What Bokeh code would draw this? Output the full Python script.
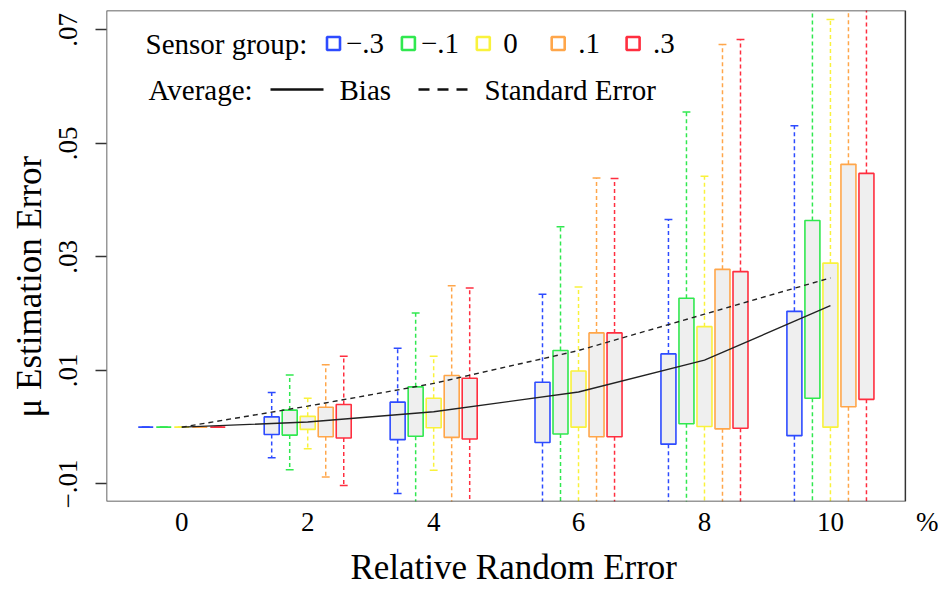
from bokeh.plotting import figure
from bokeh.models import ColumnDataSource, FixedTicker, Range1d, Label, BoxAnnotation, Arrow
from bokeh.embed import file_html
from bokeh.resources import INLINE

# ---------------- data ----------------
group_labels = ["0", "2", "4", "6", "8", "10"]
group_pos = [0.0, 2.0, 4.0, 6.3, 8.3, 10.3]
unit_label = "%"
unit_pos = 11.86

sensor_groups = ["\u2212.3", "\u2212.1", "0", ".1", ".3"]
colors = ["#2d4bff", "#30e84f", "#f9f23c", "#ffa64a", "#ff2e3f"]

# whisker low / Q1 / Q3 / whisker high, per sensor group, per random-error level
whisker_lo = [
    [0.0, -0.0054, -0.0117, -0.0200, -0.0200, -0.0220],
    [0.0, -0.0075, -0.0150, -0.0200, -0.0200, -0.0220],
    [0.0, -0.0038, -0.0076, -0.0140, -0.0200, -0.0220],
    [0.0, -0.0088, -0.0160, -0.0200, -0.0200, -0.0220],
    [0.0, -0.0103, -0.0160, -0.0200, -0.0200, -0.0220],
]
q1 = [
    [0.0, -0.0013, -0.0022, -0.0027, -0.0030, -0.0015],
    [0.0, -0.0014, -0.0016, -0.0012, 0.0006, 0.0051],
    [0.0, -0.0004, -0.0001, 0.0000, 0.0001, 0.0000],
    [0.0, -0.0017, -0.0018, -0.0017, -0.0003, 0.0036],
    [0.0, -0.0019, -0.0021, -0.0017, -0.0002, 0.0049],
]
q3 = [
    [0.0, 0.0018, 0.0044, 0.0079, 0.0129, 0.0204],
    [0.0, 0.0030, 0.0071, 0.0135, 0.0227, 0.0364],
    [0.0, 0.0019, 0.0051, 0.0099, 0.0177, 0.0289],
    [0.0, 0.0035, 0.0091, 0.0166, 0.0278, 0.0463],
    [0.0, 0.0040, 0.0086, 0.0166, 0.0274, 0.0447],
]
whisker_hi = [
    [0.0, 0.0061, 0.0139, 0.0234, 0.0366, 0.0531],
    [0.0, 0.0092, 0.0201, 0.0353, 0.0555, 0.0800],
    [0.0, 0.0051, 0.0125, 0.0247, 0.0442, 0.0718],
    [0.0, 0.0110, 0.0249, 0.0439, 0.0674, 0.0800],
    [0.0, 0.0125, 0.0245, 0.0438, 0.0683, 0.0800],
]

bias = [0.0000, 0.0009, 0.0027, 0.0062, 0.0118, 0.0214]
std_err = [0.0000, 0.0037, 0.0077, 0.0135, 0.0199, 0.0263]

y_ticks = [-0.01, 0.01, 0.03, 0.05, 0.07]
y_tick_labels = ["\u2212.01", ".01", ".03", ".05", ".07"]

x_title = "Relative Random Error"
y_title = "\u03bc Estimation Error"

# ---------------- style ----------------
FONT = "Liberation Serif"
NBSP = "\u00a0"
slot = 0.286        # spacing between boxes in a group
box_w = 0.238
cap_w = 0.125
x_start, x_box_end, x_canvas_end = -1.195, 11.49, 12.016

p = figure(width=938, height=589,
           x_range=Range1d(x_start, x_canvas_end), y_range=Range1d(-0.0131, 0.0734),
           output_backend="svg", toolbar_location=None,
           min_border_left=106, min_border_right=0, min_border_top=10, min_border_bottom=87)
p.grid.visible = False
p.outline_line_color = None
p.background_fill_color = "white"
p.border_fill_color = "white"

# y axis
ya = p.yaxis[0]
ya.ticker = FixedTicker(ticks=y_ticks)
ya.major_label_overrides = dict(zip(y_ticks, y_tick_labels))
ya.major_label_orientation = "vertical"
ya.major_tick_out = 11
ya.major_tick_in = 0
ya.minor_tick_out = 0
ya.minor_tick_in = 0
ya.major_tick_line_color = "#333333"
ya.major_tick_line_width = 1.3
ya.axis_line_color = None
ya.major_label_text_font = FONT
ya.major_label_text_font_size = "27px"
ya.major_label_text_color = "black"
ya.major_label_standoff = 18
ya.axis_label = y_title + NBSP * 7      # trailing padding lifts the centred title
ya.axis_label_text_font = FONT
ya.axis_label_text_font_size = "35px"
ya.axis_label_text_font_style = "normal"
ya.axis_label_text_color = "black"
ya.axis_label_standoff = 8

# x axis (the unit sign is the last tick label, right of the box)
xa = p.xaxis[0]
xa.ticker = FixedTicker(ticks=group_pos + [unit_pos])
xa.major_label_overrides = dict(zip(group_pos + [unit_pos], group_labels + [unit_label]))
xa.major_tick_out = 0
xa.major_tick_in = 0
xa.minor_tick_out = 0
xa.minor_tick_in = 0
xa.axis_line_color = None
xa.major_label_text_font = FONT
xa.major_label_text_font_size = "27px"
xa.major_label_text_color = "black"
xa.major_label_standoff = 5
xa.axis_label = x_title + NBSP * 2
xa.axis_label_text_font = FONT
xa.axis_label_text_font_size = "35px"
xa.axis_label_text_font_style = "normal"
xa.axis_label_text_color = "black"
xa.axis_label_standoff = 8

# boxes
for i, c in enumerate(colors):
    off = (i - 2) * slot
    xs = [g + off for g in group_pos]
    src = ColumnDataSource(dict(
        x=xs,
        xl=[x - cap_w / 2 for x in xs],
        xr=[x + cap_w / 2 for x in xs],
        lo=whisker_lo[i], q1=q1[i], q3=q3[i], hi=whisker_hi[i],
    ))
    p.segment(x0="x", y0="q3", x1="x", y1="hi", source=src, line_color=c,
              line_width=1.5, line_dash="4 3")
    p.segment(x0="x", y0="q1", x1="x", y1="lo", source=src, line_color=c,
              line_width=1.5, line_dash="4 3")
    p.segment(x0="xl", y0="hi", x1="xr", y1="hi", source=src, line_color=c, line_width=1.5)
    p.segment(x0="xl", y0="lo", x1="xr", y1="lo", source=src, line_color=c, line_width=1.5)
    p.vbar(x="x", width=box_w, bottom="q1", top="q3", source=src,
           fill_color="#efefef", line_color=c, line_width=1.6)

# average lines
p.line(group_pos, bias, line_color="#222222", line_width=1.4)
p.line(group_pos, std_err, line_color="#222222", line_width=1.4, line_dash="5 4")

# plot box (ends left of the unit sign)
p.add_layout(BoxAnnotation(right=x_box_end, fill_alpha=0, line_color="#333333",
                           line_alpha=1, line_width=1.5))

# ---------------- legend (screen units, frame relative) ----------------
row1_y = 458
row2_y = 412
TXT = dict(x_units="screen", y_units="screen", text_font=FONT, text_font_size="29px",
           text_baseline="middle", text_color="black")
p.add_layout(Label(x=39, y=row1_y, text="Sensor group:", **TXT))
for k, (lab, c) in enumerate(zip(sensor_groups, colors)):
    cx = 227 + k * 74.9
    p.add_layout(BoxAnnotation(left=cx - 6.5, right=cx + 6.5, bottom=row1_y - 6.5, top=row1_y + 6.5,
                               left_units="screen", right_units="screen",
                               bottom_units="screen", top_units="screen",
                               fill_alpha=0, line_color=c, line_alpha=1, line_width=2.6))
    tx = cx + (12.5 if lab.startswith("\u2212") else 20)
    p.add_layout(Label(x=tx, y=row1_y, text=lab, **TXT))

p.add_layout(Label(x=42, y=row2_y, text="Average:", **TXT))
p.add_layout(Arrow(x_start=164, y_start=row2_y, x_end=217, y_end=row2_y,
                   start_units="screen", end_units="screen", start=None, end=None,
                   line_color="#111111", line_width=2.6))
p.add_layout(Label(x=233, y=row2_y, text="Bias", **TXT))
p.add_layout(Arrow(x_start=312, y_start=row2_y, x_end=361, y_end=row2_y,
                   start_units="screen", end_units="screen", start=None, end=None,
                   line_color="#111111", line_width=2.6, line_dash="11 8"))
p.add_layout(Label(x=378, y=row2_y, text="Standard Error", **TXT))

open("out.html", "w").write(file_html(p, INLINE))
